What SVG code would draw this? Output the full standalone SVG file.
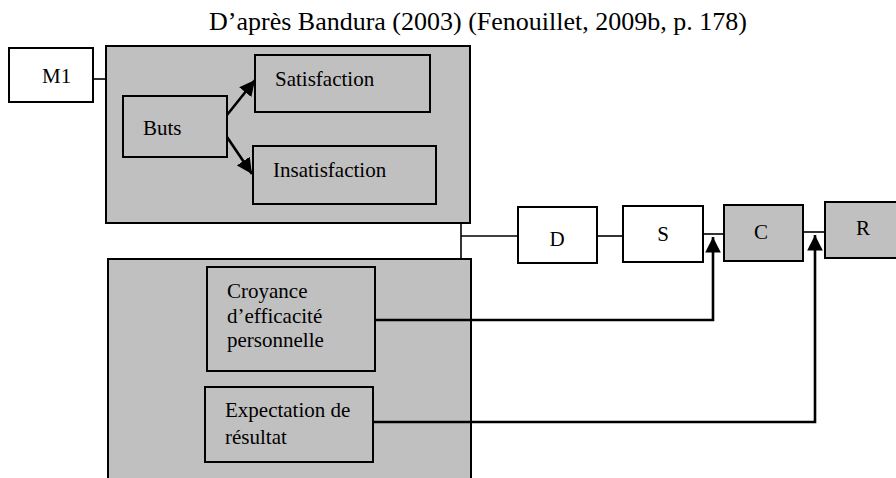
<svg xmlns="http://www.w3.org/2000/svg" width="896" height="478" viewBox="0 0 896 478" font-family="'Liberation Serif', 'Times New Roman', 'DejaVu Serif', serif">
<style>
text{font-family:'Liberation Serif','Times New Roman','DejaVu Serif',serif;font-size:21px;fill:#000}
.title{font-size:26px}
.box{stroke:#000;stroke-width:2}
.w{fill:#fff}
.g{fill:#c0c0c0}
.ln{stroke:#000;stroke-width:1.6;fill:none}
.ar{stroke:#000;stroke-width:2.6;fill:none}
.c{text-anchor:middle}
</style>
<defs>
<marker id="ah" viewBox="0 0 10 10" refX="10" refY="5" markerWidth="6" markerHeight="6" orient="auto" markerUnits="strokeWidth">
<path d="M0,0 L10,5 L0,10 z" fill="#000"/>
</marker>
</defs>
<rect width="896" height="478" fill="#fff"/>
<text class="title" x="209" y="30">D’après Bandura (2003) (Fenouillet, 2009b, p. 178)</text>

<g id="top-panel"><rect class="box g" x="106" y="46" width="364" height="177"/></g>
<g id="bottom-panel"><rect class="box g" x="108" y="259" width="363" height="240"/></g>
<g id="m1"><rect class="box w" x="9" y="48" width="84" height="54"/><text x="42" y="83">M1</text></g>
<g id="buts"><rect class="box g" x="123" y="96" width="104" height="61"/><text x="143" y="135">Buts</text></g>
<g id="satisfaction"><rect class="box g" x="255" y="55" width="175" height="57"/><text x="275" y="86">Satisfaction</text></g>
<g id="insatisfaction"><rect class="box g" x="253" y="146" width="183" height="58"/><text x="273" y="177">Insatisfaction</text></g>
<g id="croyance"><rect class="box g" x="207" y="267" width="168" height="104"/><text x="227" y="298">Croyance</text><text x="227" y="323">d’efficacité</text><text x="227" y="347">personnelle</text></g>
<g id="expectation"><rect class="box g" x="205" y="387" width="168" height="75"/><text x="225" y="417">Expectation de</text><text x="225" y="444">résultat</text></g>
<g id="d"><rect class="box w" x="518" y="207" width="79" height="56"/><text class="c" x="557" y="246">D</text></g>
<g id="s"><rect class="box w" x="623" y="206" width="80" height="56"/><text class="c" x="663" y="241">S</text></g>
<g id="c"><rect class="box g" x="724" y="205" width="79" height="56"/><text class="c" x="761" y="239">C</text></g>
<g id="r"><rect class="box g" x="825" y="202" width="80" height="56"/><text class="c" x="863" y="235">R</text></g>

<g id="connectors">
<line class="ln" x1="93" y1="79" x2="106" y2="79"/>
<line class="ln" x1="461" y1="223" x2="461" y2="259"/>
<line class="ln" x1="461" y1="236" x2="518" y2="236"/>
<line class="ln" x1="597" y1="236" x2="623" y2="236"/>
<line class="ln" x1="703" y1="234" x2="724" y2="234"/>
<line class="ln" x1="803" y1="232" x2="825" y2="232"/>
<line class="ar" x1="227" y1="115" x2="255" y2="80" marker-end="url(#ah)"/>
<line class="ar" x1="227" y1="137" x2="252" y2="174" marker-end="url(#ah)"/>
<polyline class="ar" points="375,320 713,320 713,237" marker-end="url(#ah)"/>
<polyline class="ar" points="373,422 815,422 815,235" marker-end="url(#ah)"/>
</g>
</svg>
